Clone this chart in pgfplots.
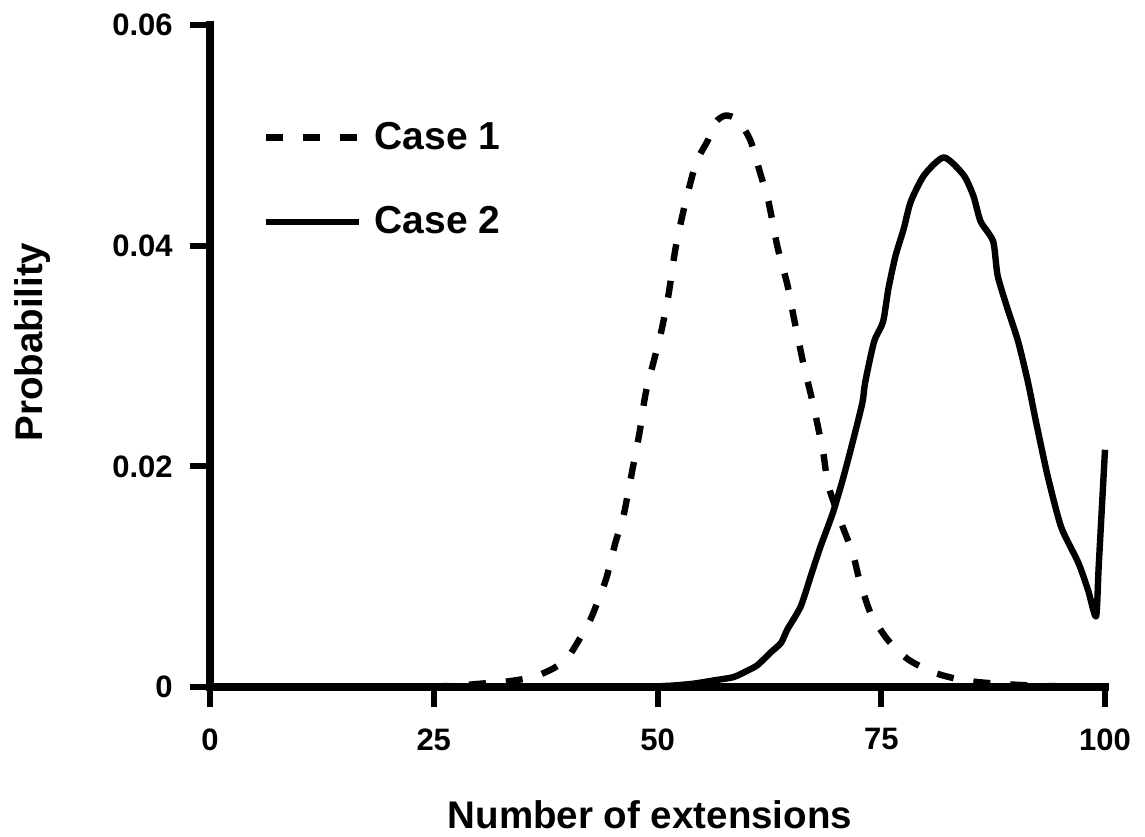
\documentclass[border=0pt]{standalone}
\usepackage{fontspec}
\setmainfont{Liberation Sans}
\usepackage{pgfplots}
\pgfplotsset{compat=1.18}

% case 1: dashed curve
\pgfplotstableread{
x y
0 0
20 0
27 0.0001
30.2 0.0003
33.2 0.0005
36.1 0.0009
38.4 0.0017
40.0 0.0027
41.4 0.0045
42.5 0.0061
43.3 0.0077
44.3 0.0099
45.3 0.0131
46.2 0.0155
47.2 0.0197
48.0 0.0231
48.7 0.0267
50.3 0.0318
51.2 0.0354
52.0 0.0397
53.0 0.0435
54.3 0.0475
55.6 0.0495
56.5 0.0512
57.6 0.0518
59.0 0.0514
60.4 0.0495
61.5 0.0465
62.4 0.0440
63.4 0.0399
64.5 0.0365
65.2 0.0336
66.3 0.0293
67.4 0.0256
68.5 0.0213
69.1 0.0182
70.7 0.0145
71.8 0.0122
72.5 0.0099
73.8 0.0067
75.7 0.0043
78.0 0.0025
80.9 0.0013
84.2 0.0006
88 0.0003
93 0.0001
100 0
}\caseone

% case 2: solid curve
\pgfplotstableread{
x y
0 0
45 0
51 0.0001
54.0 0.0003
56.3 0.0006
58.5 0.0009
60.1 0.0015
61.2 0.0020
62.6 0.0031
63.8 0.0040
64.5 0.0052
66.0 0.0073
67.1 0.0100
68.2 0.0127
69.6 0.0158
70.8 0.0191
71.9 0.0225
72.9 0.0258
73.2 0.0276
74.2 0.0313
75.2 0.0331
75.8 0.0361
76.6 0.0391
77.5 0.0415
78.3 0.0440
79.8 0.0464
82.0 0.0480
84.2 0.0464
85.3 0.0445
86.1 0.0422
87.5 0.0404
88.0 0.0373
89.1 0.0343
90.3 0.0313
91.4 0.0276
92.3 0.0240
93.6 0.0191
95.1 0.0145
97.0 0.0113
98.1 0.0088
99.0 0.0064
99.3 0.0110
100 0.0215
}\casetwo

\begin{document}
\begin{tikzpicture}
\useasboundingbox (0,0) rectangle (572.5pt,418pt);
\begin{axis}[
    at={(105pt,74.5pt)}, anchor=south west,
    scale only axis, width=447.5pt, height=331pt,
    xmin=0, xmax=100, ymin=0, ymax=0.06,
    axis lines=left,
    axis line style={line width=4pt, -, line cap=rect},
    xtick={0,25,50,75,100},
    xticklabels={0,25,50,75,100},
    ytick={0,0.02,0.04,0.06},
    yticklabels={0,0.02,0.04,0.06},
    scaled y ticks=false,
    tick align=outside,
    major tick length=10pt,
    every tick/.style={black, line width=3pt},
    tick label style={font=\fontsize{15.5}{16}\selectfont\bfseries, inner sep=0pt},
    yticklabel style={anchor=east, xshift=-8.5pt},
    xticklabel style={anchor=north, yshift=-10.5pt},
    label style={font=\fontsize{19.25}{20}\selectfont\bfseries},
    xlabel={Number of extensions},
    xlabel style={at={(rel axis cs:0.4916,-0.213)}, anchor=base},
    ylabel={Probability},
    ylabel style={at={(rel axis cs:-0.1877,0.521)}, anchor=base},
    clip=false,
    legend image code/.code={\draw[#1] (0pt,0pt) -- (46.5pt,0pt);},
    legend style={draw=none, fill=none, inner sep=0pt,
        at={(rel axis cs:0.0581,0.8535)}, anchor=north west,
        nodes={inner sep=0pt}, column sep=6.5pt, row sep=27pt,
        font=\fontsize{19.5}{20}\selectfont\bfseries},
    legend cell align=left,
]
\addplot[black, line width=3.2pt, line join=round, smooth, tension=0.4,
    dash pattern=on 8.5pt off 10pt] table[x=x,y=y] {\caseone};
\addlegendentry{Case 1}
\addplot[black, line width=3.2pt, line join=round, smooth, tension=0.4] table[x=x,y=y] {\casetwo};
\addlegendentry{Case 2}
\end{axis}
\end{tikzpicture}
\end{document}
